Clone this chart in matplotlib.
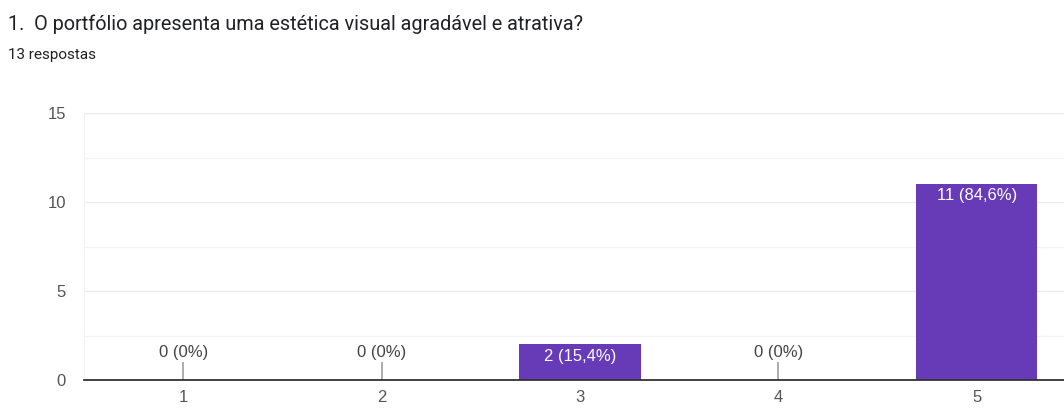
import matplotlib.pyplot as plt
import matplotlib as mpl

# ========== data ==========
categories = ["1", "2", "3", "4", "5"]
counts = [0, 0, 2, 0, 11]
labels = ["0 (0%)", "0 (0%)", "2 (15,4%)", "0 (0%)", "11 (84,6%)"]
title = "1.  O portfólio apresenta uma estética visual agradável e atrativa?"
subtitle = "13 respostas"
y_ticks = [0, 5, 10, 15]

PURPLE = "#673AB7"
TEXT = "#202124"
TICK = "#555555"
CHART_FONT = ["Liberation Sans", "DejaVu Sans"]

mpl.rcParams.update({
    "font.family": ["Roboto", "DejaVu Sans"],
})

fig = plt.figure(figsize=(10.64, 4.08), dpi=100)
fig.patch.set_facecolor("white")

fig.text(8 / 1064, 1 - 30 / 408, title, fontsize=14.3, color=TEXT,
         ha="left", va="baseline")
fig.text(8 / 1064, 1 - 59 / 408, subtitle, fontsize=11, color=TEXT,
         ha="left", va="baseline")

ax = fig.add_axes([84 / 1064, 28 / 408, 992 / 1064, 267 / 408])
x = list(range(1, len(categories) + 1))

ax.bar(x, counts, width=0.61, color=PURPLE, zorder=3)

# stub marks for zero values
zx = [xi for xi, c in zip(x, counts) if c == 0]
ax.vlines(zx, 0, 1.0, color="#9e9e9e", lw=1.2, zorder=3)

for xi, c, lab in zip(x, counts, labels):
    if c == 0:
        ax.annotate(lab, (xi, 1.0), xytext=(0, 1.5), textcoords="offset points",
                    ha="center", va="bottom", fontsize=12, color="#444444",
                    family=CHART_FONT)
    else:
        ax.annotate(lab, (xi, c), xytext=(0, -3), textcoords="offset points",
                    ha="center", va="top", fontsize=12, color="white", zorder=4,
                    family=CHART_FONT)

ax.set_xlim(0.5, len(categories) + 0.5)
ax.set_ylim(0, 15)
ax.set_xticks(x)
ax.set_xticklabels(categories, family=CHART_FONT)
ax.set_yticks(y_ticks)
ax.set_yticklabels([str(t) for t in y_ticks], family=CHART_FONT)
ax.set_yticks([2.5, 7.5, 12.5], minor=True)
ax.tick_params(length=0, labelsize=12, colors=TICK, pad=13)
ax.tick_params(axis="x", pad=7)
ax.tick_params(which="minor", length=0)
ax.grid(axis="y", which="major", color="#ebebeb", lw=1.0, zorder=0)
ax.grid(axis="y", which="minor", color="#f5f5f5", lw=1.0, zorder=0)

for s in ["top", "right"]:
    ax.spines[s].set_visible(False)
ax.spines["left"].set_color("#f0f0f0")
ax.spines["bottom"].set_color("#333333")
ax.spines["bottom"].set_linewidth(1.3)
ax.spines["bottom"].set_zorder(5)

fig.savefig("out.png", dpi=100, facecolor="white")
